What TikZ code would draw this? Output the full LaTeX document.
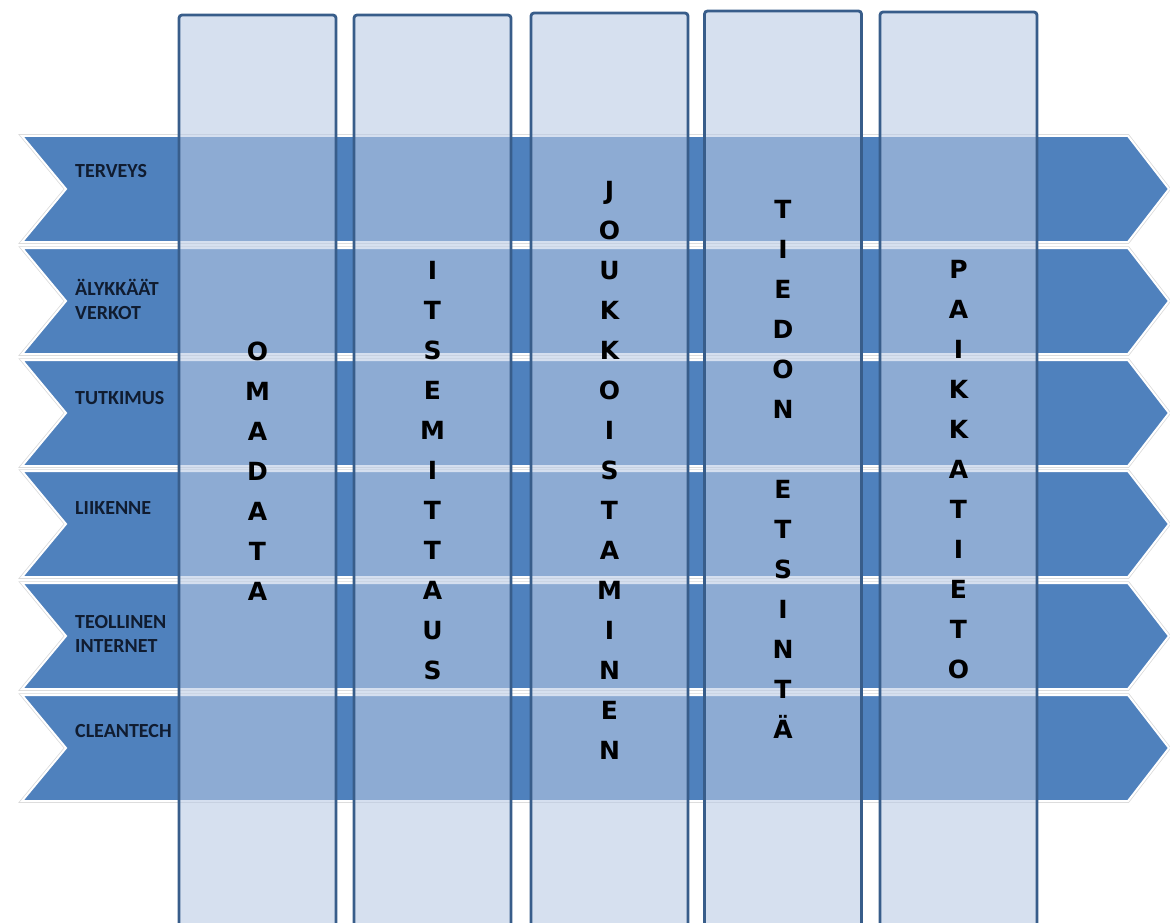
\documentclass[tikz,border=0pt]{standalone}
\usepackage{fontspec}
\newfontfamily\labelfont{Carlito}[BoldFont={Carlito Bold}]
\newfontfamily\wordfont{DejaVu Sans}[BoldFont={DejaVu Sans Bold}]
\usetikzlibrary{positioning}
\definecolor{bandblue}{HTML}{4F81BD}
\definecolor{coledge}{HTML}{385D8A}
\definecolor{colfill}{RGB}{185,202,228}
\definecolor{labelink}{RGB}{16,28,48}
\tikzset{
  band/.style={fill=bandblue,draw=white,line width=2pt,preaction={draw=black!15,line width=3.5pt}},
  column/.style={rectangle,draw=coledge,line width=2.8pt,rounded corners=3pt,fill=colfill,fill opacity=0.59,text opacity=1,minimum width=157pt,inner sep=0pt,align=center,font=\wordfont\bfseries\fontsize{25}{40}\selectfont},
  rowlabel/.style={anchor=west,align=left,inner sep=0pt,text=labelink,font=\labelfont\bfseries\fontsize{20}{24}\selectfont}
}

\begin{document}
\begin{tikzpicture}[x=1pt,y=-1pt]
\clip (0,0) rectangle (1170,923);
% sector bands
\draw[band] (22,136) -- (1128,136) -- (1169,189) -- (1128,242) -- (22,242) -- (66,189) -- cycle;
\draw[band] (22,248) -- (1128,248) -- (1169,301) -- (1128,354) -- (22,354) -- (66,301) -- cycle;
\draw[band] (22,360) -- (1128,360) -- (1169,413) -- (1128,466) -- (22,466) -- (66,413) -- cycle;
\draw[band] (22,471) -- (1128,471) -- (1169,524) -- (1128,577) -- (22,577) -- (66,524) -- cycle;
\draw[band] (22,583) -- (1128,583) -- (1169,636) -- (1128,689) -- (22,689) -- (66,636) -- cycle;
\draw[band] (22,695) -- (1128,695) -- (1169,748) -- (1128,801) -- (22,801) -- (66,748) -- cycle;
\node[rowlabel] (terveys) at (75,171) {TERVEYS};
\node[rowlabel] (verkot) at (75,299) {ÄLYKKÄÄT\\VERKOT};
\node[rowlabel] (tutkimus) at (75,398) {TUTKIMUS};
\node[rowlabel] (liikenne) at (75,508) {LIIKENNE};
\node[rowlabel] (internet) at (75,634) {TEOLLINEN\\INTERNET};
\node[rowlabel] (cleantech) at (75,731) {CLEANTECH};
% data columns
\node[column,minimum height=912pt] (omadata) at (257.5,471) {O\\M\\A\\D\\A\\T\\A};
\node[column,minimum height=912pt] (itsemittaus) at (432.5,471) {I\\T\\S\\E\\M\\I\\T\\T\\A\\U\\S};
\node[column,minimum height=914pt] (joukkoistaminen) at (609.5,470) {J\\O\\U\\K\\K\\O\\I\\S\\T\\A\\M\\I\\N\\E\\N};
\node[column,minimum height=916pt] (etsinta) at (783,469) {T\\I\\E\\D\\O\\N\\[40pt]E\\T\\S\\I\\N\\T\\Ä};
\node[column,minimum height=915pt] (paikkatieto) at (958.5,469.5) {P\\A\\I\\K\\K\\A\\T\\I\\E\\T\\O};
\end{tikzpicture}
\end{document}
